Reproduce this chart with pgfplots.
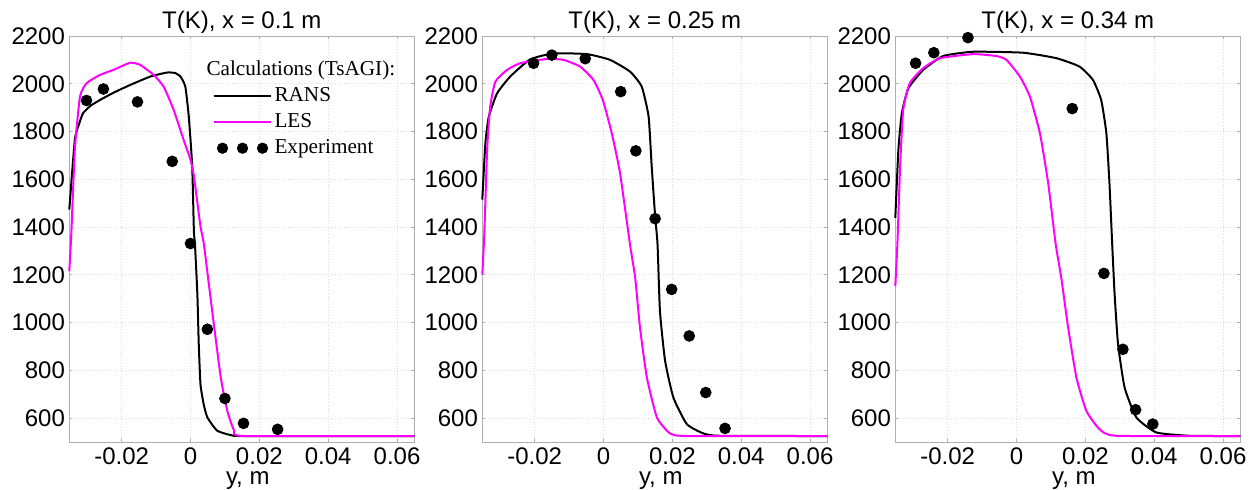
\documentclass[border=0pt]{standalone}
\usepackage{fontspec}
\setmainfont{Liberation Sans}
\newfontfamily\legfont{Liberation Serif}
\usepackage{pgfplots}
\pgfplotsset{compat=1.18}

\definecolor{boxgray}{RGB}{175,175,175}
\definecolor{gridgray}{RGB}{222,222,222}
\definecolor{les}{RGB}{255,0,255}

\newcommand{\tickfont}{\fontsize{12}{14}\selectfont}

\pgfplotsset{
  panel/.style={
    scale only axis,
    width=172.5pt, height=203pt,
    anchor=south west,
    xmin=-0.0352, xmax=0.065,
    ymin=500, ymax=2200,
    xtick={-0.02,0,0.02,0.04,0.06},
    xticklabels={-0.02,0,0.02,0.04,0.06},
    ytick={600,800,1000,1200,1400,1600,1800,2000,2200},
    yticklabels={600,800,1000,1200,1400,1600,1800,2000,2200},
    axis line style={boxgray},
    tick style={boxgray, thin},
    major tick length=1.5pt,
    grid=major,
    major grid style={gridgray, densely dotted, thin},
    tick label style={font=\tickfont, text=black},
    xticklabel style={anchor=base, inner sep=0pt, yshift=-11.5pt},
    yticklabel style={anchor=east, inner sep=0pt, xshift=-2pt},
    title style={font=\tickfont, at={(axis description cs:0.5,1)}, anchor=base, yshift=-2.5pt},
    xlabel={y, m},
    xlabel style={font=\tickfont, inner sep=0pt, at={(axis description cs:0.5,0)}, anchor=base, yshift=-21.5pt, xshift=3pt},
    clip=false,
  },
  longline/.style={legend image code/.code={\draw[##1] (0pt,0pt) -- (28.5pt,0pt);}},
  threedots/.style={legend image code/.code={
    \fill (4.5pt,0pt) circle (2.6pt);
    \fill (14.5pt,0pt) circle (2.6pt);
    \fill (24.5pt,0pt) circle (2.6pt);}},
  rans/.style={black, line width=1pt, smooth, tension=0.3, longline},
  lesline/.style={les, line width=1pt, smooth, tension=0.3, longline},
  expt/.style={only marks, mark=*, mark size=2.7pt, black, threedots},
}

\begin{document}
\begin{tikzpicture}
\useasboundingbox (0,0) rectangle (630pt,245pt);

% x = 0.1 m
\begin{axis}[panel, at={(34.65pt,24pt)}, title={T(K), x = 0.1 m},
  legend style={at={(axis description cs:0.414,0.947)}, anchor=north west,
    draw=none, fill=none, inner sep=0pt, row sep=1.5pt,
    font=\legfont\fontsize{10.6}{12}\selectfont,
    nodes={inner sep=1.5pt, anchor=west}},
  legend cell align=left]
\addlegendimage{empty legend}
\addlegendentry{\hspace*{-34pt}Calculations (TsAGI):}
\addplot[rans] table {
-0.0352 1473
-0.0336 1765
-0.0324 1830
-0.0312 1877
-0.0290 1908
-0.0263 1932
-0.0220 1965
-0.0175 1995
-0.0117 2030
-0.0068 2047
-0.0045 2045
-0.0029 2030
-0.0015 1988
-0.0005 1863
0.0005 1654
0.0010 1376
0.0013 1327
0.0020 1118
0.0024 909
0.0029 742
0.0038 660
0.0049 603
0.0078 547
0.0127 526
0.0200 525
0.0650 525
};
\addlegendentry{RANS}
\addplot[lesline] table {
-0.0352 1215
-0.0346 1376
-0.0336 1724
-0.0321 1946
-0.0302 2002
-0.0263 2037
-0.0224 2058
-0.0175 2088
-0.0146 2079
-0.0107 2037
-0.0078 1988
-0.0049 1891
-0.0020 1765
0.0000 1682
0.0010 1612
0.0029 1403
0.0039 1327
0.0063 1048
0.0088 770
0.0107 630
0.0127 547
0.0156 525
0.0650 525
};
\addlegendentry{LES}
\addplot[expt] table {
-0.0302 1930
-0.0253 1978
-0.0154 1924
-0.0053 1675
0.0000 1331
0.0049 972
0.0100 682
0.0154 578
0.0253 553
};
\addlegendentry{Experiment}
\end{axis}

% x = 0.25 m
\begin{axis}[panel, at={(241.15pt,24pt)}, title={T(K), x = 0.25 m}]
\addplot[rans] table {
-0.0352 1515
-0.0343 1752
-0.0333 1863
-0.0309 1960
-0.0271 2030
-0.0213 2102
-0.0145 2127
-0.0048 2124
0.0019 2100
0.0077 2051
0.0111 1988
0.0131 1863
0.0140 1654
0.0150 1445
0.0157 1327
0.0164 1048
0.0179 839
0.0203 686
0.0242 575
0.0290 536
0.0338 526
0.0650 525
};
\addplot[lesline] table {
-0.0352 1201
-0.0346 1376
-0.0338 1724
-0.0329 1905
-0.0314 2009
-0.0280 2058
-0.0242 2086
-0.0164 2104
-0.0116 2100
-0.0068 2072
-0.0029 2016
-0.0002 1932
0.0024 1793
0.0048 1626
0.0077 1327
0.0092 1188
0.0106 979
0.0126 770
0.0155 603
0.0193 536
0.0242 525
0.0650 525
};
\addplot[expt] table {
-0.0203 2086
-0.0150 2120
-0.0053 2105
0.0050 1967
0.0094 1719
0.0150 1435
0.0198 1139
0.0249 944
0.0297 707
0.0353 557
};
\end{axis}

% x = 0.34 m
\begin{axis}[panel, at={(447.65pt,24pt)}, title={T(K), x = 0.34 m}]
\addplot[rans] table {
-0.0352 1438
-0.0343 1724
-0.0333 1877
-0.0314 1981
-0.0271 2058
-0.0213 2116
-0.0126 2134
0.0019 2130
0.0116 2107
0.0183 2072
0.0222 2016
0.0246 1932
0.0261 1793
0.0270 1584
0.0278 1327
0.0285 1118
0.0295 909
0.0314 728
0.0348 603
0.0406 540
0.0502 526
0.0650 525
};
\addplot[lesline] table {
-0.0352 1153
-0.0346 1327
-0.0338 1654
-0.0329 1891
-0.0310 2002
-0.0271 2065
-0.0222 2107
-0.0126 2124
-0.0058 2116
-0.0029 2100
0.0010 2030
0.0039 1946
0.0068 1793
0.0092 1584
0.0114 1327
0.0130 1188
0.0150 979
0.0174 770
0.0203 630
0.0241 554
0.0290 526
0.0650 525
};
\addplot[expt] table {
-0.0293 2086
-0.0240 2130
-0.0141 2193
0.0162 1896
0.0254 1206
0.0309 888
0.0346 635
0.0396 575
};
\end{axis}
\end{tikzpicture}
\end{document}
